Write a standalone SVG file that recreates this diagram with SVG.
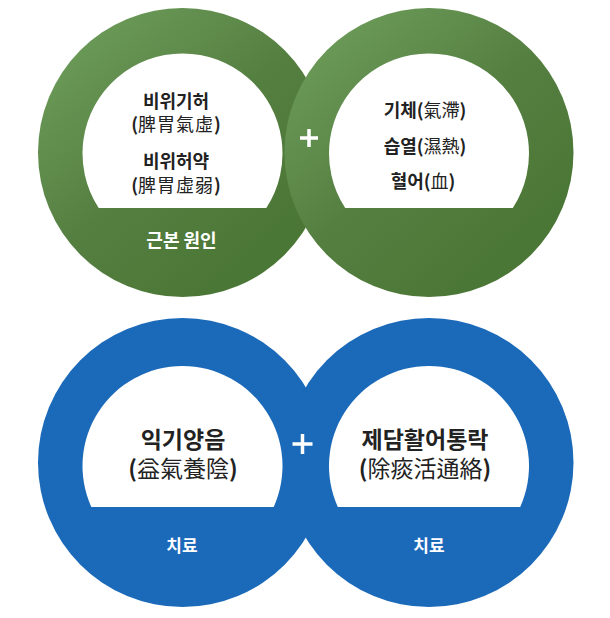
<svg xmlns="http://www.w3.org/2000/svg" width="610" height="618" viewBox="0 0 610 618">
  <defs>
    <linearGradient id="gGreen" x1="0.15" y1="0.05" x2="0.8" y2="0.8">
      <stop offset="0" stop-color="#6c9b59"/>
      <stop offset="0.55" stop-color="#557f41"/>
      <stop offset="1" stop-color="#4b7736"/>
    </linearGradient>
    <style>
      .green { fill: url(#gGreen); }
      .blue { fill: #1b69b9; }
      .hole { fill: #ffffff; }
      .t { font-family: "Noto Sans CJK KR", "Noto Sans", sans-serif; text-anchor: middle; fill: #222222; }
      .b { font-weight: 700; }
      .r { font-weight: 400; }
      .w { fill: #ffffff; font-weight: 700; }
      .plus { stroke: #ffffff; stroke-width: 3.5; fill: none; }
    </style>
  </defs>

  <g id="cause-root">
    <circle class="green" cx="182.5" cy="152.5" r="144.5"/>
    <path class="hole" d="M98.7,208 A100,100 0 1 1 266.3,208 Z"/>
    <text class="t b" x="176" y="108" font-size="18">비위기허</text>
    <text class="t" x="176" y="131" font-size="18"><tspan class="b">(</tspan><tspan class="r" letter-spacing="1">脾胃氣虛</tspan><tspan class="b">)</tspan></text>
    <text class="t b" x="176" y="168" font-size="18">비위허약</text>
    <text class="t" x="176" y="192" font-size="18"><tspan class="b">(</tspan><tspan class="r" letter-spacing="1">脾胃虛弱</tspan><tspan class="b">)</tspan></text>
    <text class="t w" x="181.5" y="247" font-size="18">근본 원인</text>
  </g>

  <g id="cause-factors">
    <circle class="green" cx="429" cy="152.5" r="144.5"/>
    <path class="hole" d="M345.2,208 A100,100 0 1 1 512.8,208 Z"/>
    <text class="t" x="425" y="117" font-size="18"><tspan class="b">기체(</tspan><tspan class="r">氣滯</tspan><tspan class="b">)</tspan></text>
    <text class="t" x="425" y="153" font-size="18"><tspan class="b">습열(</tspan><tspan class="r">濕熱</tspan><tspan class="b">)</tspan></text>
    <text class="t" x="423" y="188" font-size="18"><tspan class="b">혈어(</tspan><tspan class="r">血</tspan><tspan class="b">)</tspan></text>
  </g>

  <g id="treat-left">
    <circle class="blue" cx="182.5" cy="462.5" r="144.5"/>
  </g>
  <g id="treat-right">
    <circle class="blue" cx="429" cy="462.5" r="144.5"/>
  </g>
  <g id="treat-left-content">
    <path class="hole" d="M91.3,507 A100,100 0 1 1 273.7,507 Z"/>
    <text class="t b" x="183" y="448" font-size="23">익기양음</text>
    <text class="t" x="183" y="477" font-size="23"><tspan class="b">(</tspan><tspan class="r">益氣養陰</tspan><tspan class="b">)</tspan></text>
    <text class="t w" x="182" y="552" font-size="17">치료</text>
  </g>
  <g id="treat-right-content">
    <path class="hole" d="M337.8,507 A100,100 0 1 1 520.2,507 Z"/>
    <text class="t b" x="425" y="448" font-size="23">제담활어통락</text>
    <text class="t" x="425" y="477" font-size="23"><tspan class="b">(</tspan><tspan class="r">除痰活通絡</tspan><tspan class="b">)</tspan></text>
    <text class="t w" x="429" y="552" font-size="17">치료</text>
  </g>

  <g id="connectors">
    <path class="plus" d="M300,138 H318 M309,129 V147"/>
    <path class="plus" d="M292.5,444 H312.5 M302.5,434 V454"/>
  </g>
</svg>
